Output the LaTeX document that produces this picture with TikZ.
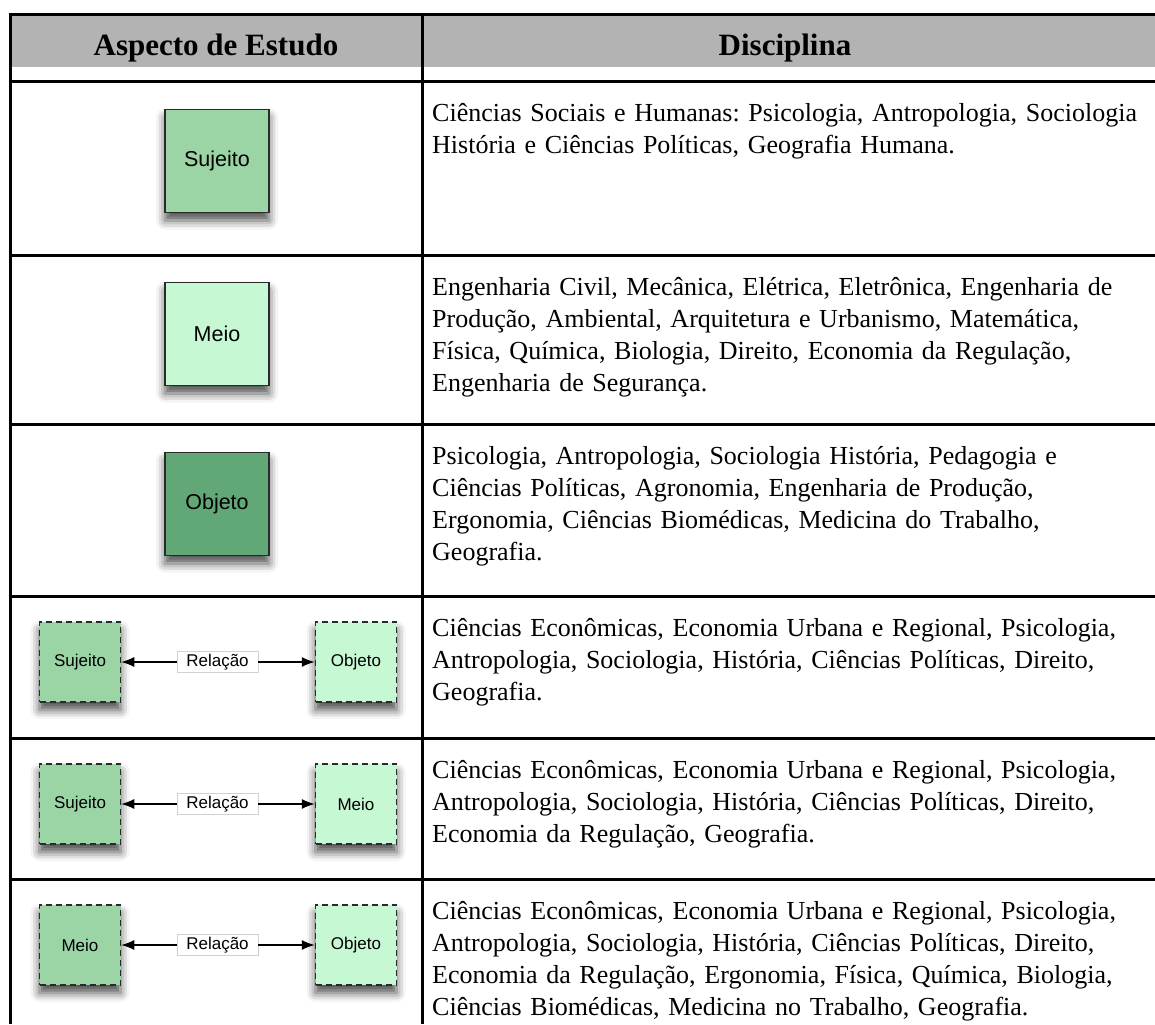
\documentclass[tikz,border=0pt]{standalone}
\usepackage{fontspec}
\setmainfont{Liberation Serif}
\setsansfont{Liberation Sans}
\usetikzlibrary{arrows.meta,shadows.blur}
\frenchspacing

\definecolor{headgray}{HTML}{B2B3B2}
\definecolor{sujfill}{HTML}{9BD5A6}
\definecolor{meiofill}{HTML}{C6F8D4}
\definecolor{objfill}{HTML}{62A877}
\definecolor{boxline}{HTML}{2A2A2A}

\begin{document}
\begin{tikzpicture}[x=1pt,y=-1pt,
  rule/.style={line width=3pt},
  softshadow/.style={blur shadow={shadow xshift=0pt,shadow yshift=-8pt,
      shadow blur radius=9pt,shadow opacity=70}},
  bigbox/.style={draw=boxline,line width=1.8pt,minimum width=104pt,
      minimum height=103pt,inner sep=0pt,softshadow,
      font=\sffamily\fontsize{21.5}{25}\selectfont},
  relbox/.style={draw=boxline,line width=1.5pt,dash pattern=on 6pt off 4pt,
      minimum width=81pt,minimum height=80pt,inner sep=0pt,softshadow,
      font=\sffamily\fontsize{17}{20}\selectfont},
  rellabel/.style={draw=black!18,line width=0.8pt,fill=white,inner sep=0pt,
      minimum width=81pt,minimum height=21pt,
      font=\sffamily\fontsize{17}{20}\selectfont},
  link/.style={line width=1.3pt,-{Latex[length=13pt,width=10pt]}},
  head/.style={anchor=base,inner sep=0pt,font=\bfseries\fontsize{31}{36}\selectfont},
  cell/.style={anchor=base west,inner sep=0pt,text width=760pt,align=left,
      font=\fontsize{26}{32}\selectfont}
]
\useasboundingbox (0,0) rectangle (1155,1024);

% header band
\fill[headgray] (10,16) rectangle (1155,67);
\node[head] (hA) at (216,56) {Aspecto de Estudo};
\node[head] (hB) at (785,56) {Disciplina};

% table rules
\draw[rule] (8.5,15) -- (1155,15);
\foreach \yy in {82,255,424,596,738,879}
  \draw[rule] (8.5,\yy) -- (1155,\yy);
\draw[rule] (10,15) -- (10,1024);
\draw[rule] (422,15) -- (422,1024);

% single aspects
\node[bigbox,fill=sujfill] (suj) at (217,161) {Sujeito};
\node[bigbox,fill=meiofill] (meio) at (217,334) {Meio};
\node[bigbox,fill=objfill] (obj) at (217,504) {Objeto};

% relations
\node[relbox,fill=sujfill]  (r4l) at (80,662) {Sujeito};
\node[rellabel]             (r4m) at (217.5,662) {Relação};
\node[relbox,fill=meiofill] (r4r) at (356,662) {Objeto};
\draw[link] (r4m.west) -- (r4l.east);
\draw[link] (r4m.east) -- (r4r.west);

\node[relbox,fill=sujfill]  (r5l) at (80,804) {Sujeito};
\node[rellabel]             (r5m) at (217.5,804) {Relação};
\node[relbox,fill=meiofill] (r5r) at (356,804) {Meio};
\draw[link] (r5m.west) -- (r5l.east);
\draw[link] (r5m.east) -- (r5r.west);

\node[relbox,fill=sujfill]  (r6l) at (80,945) {Meio};
\node[rellabel]             (r6m) at (217.5,945) {Relação};
\node[relbox,fill=meiofill] (r6r) at (356,945) {Objeto};
\draw[link] (r6m.west) -- (r6l.east);
\draw[link] (r6m.east) -- (r6r.west);

% disciplines
\node[cell] (d1) at (432,122) {Ciências Sociais e Humanas: Psicologia, Antropologia, Sociologia\\
História e Ciências Políticas, Geografia Humana.};
\node[cell] (d2) at (432,295) {Engenharia Civil, Mecânica, Elétrica, Eletrônica, Engenharia de\\
Produção, Ambiental, Arquitetura e Urbanismo, Matemática,\\
Física, Química, Biologia, Direito, Economia da Regulação,\\
Engenharia de Segurança.};
\node[cell] (d3) at (432,464) {Psicologia, Antropologia, Sociologia História, Pedagogia e\\
Ciências Políticas, Agronomia, Engenharia de Produção,\\
Ergonomia, Ciências Biomédicas, Medicina do Trabalho,\\
Geografia.};
\node[cell] (d4) at (432,636) {Ciências Econômicas, Economia Urbana e Regional, Psicologia,\\
Antropologia, Sociologia, História, Ciências Políticas, Direito,\\
Geografia.};
\node[cell] (d5) at (432,778) {Ciências Econômicas, Economia Urbana e Regional, Psicologia,\\
Antropologia, Sociologia, História, Ciências Políticas, Direito,\\
Economia da Regulação, Geografia.};
\node[cell] (d6) at (432,919) {Ciências Econômicas, Economia Urbana e Regional, Psicologia,\\
Antropologia, Sociologia, História, Ciências Políticas, Direito,\\
Economia da Regulação, Ergonomia, Física, Química, Biologia,\\
Ciências Biomédicas, Medicina no Trabalho, Geografia.};
\end{tikzpicture}
\end{document}
